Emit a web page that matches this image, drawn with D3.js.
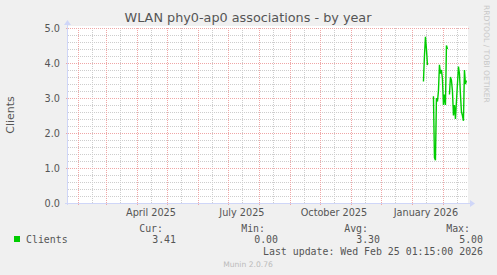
<!DOCTYPE html>
<html>
<head>
<meta charset="utf-8">
<script src="https://cdn.jsdelivr.net/npm/d3@7"></script>
<style>
  html, body { margin: 0; padding: 0; background: #f0f0f0; }
  svg { display: block; }
  text { font-family: 'DejaVu Sans', sans-serif; fill: #555; }
  .mono { font-family: 'DejaVu Sans Mono', monospace; }
</style>
</head>
<body>
<script>
// daily averages, null = no data
const days = [
  '2026-01-12', '2026-01-13', '2026-01-14', '2026-01-15', '2026-01-16',
  '2026-01-17', '2026-01-18', '2026-01-19', '2026-01-20', '2026-01-21',
  '2026-01-22', '2026-01-23', '2026-01-24', '2026-01-25', '2026-01-26',
  '2026-01-27', '2026-01-28', '2026-01-29', '2026-01-30', '2026-01-31',
  '2026-02-01', '2026-02-02', '2026-02-03', '2026-02-04', '2026-02-05',
  '2026-02-06', '2026-02-07', '2026-02-08', '2026-02-09', '2026-02-10',
  '2026-02-11', '2026-02-12', '2026-02-13', '2026-02-14', '2026-02-15',
  '2026-02-16', '2026-02-17', '2026-02-18', '2026-02-19', '2026-02-20',
  '2026-02-21', '2026-02-22', '2026-02-23', '2026-02-24'
]
const clients = [
  3.47, 4.2, 4.75, 4.4, 3.94,
  null, null, null, null, null,
  3.05, 1.3, 1.22, 3.0, 2.9,
  3.2, 3.95, 3.7, 3.8, 3.55,
  2.8, 3.1, 2.8, 4.5, 4.4,
  null, 3.1, 3.6, 3.5, 3.2,
  2.5, 2.8, 2.4, 2.9, 3.4,
  3.9, 3.7, 3.1, 2.6, 2.5,
  2.35, 3.8, 3.4, 3.5
]
const yTicks = [0, 1, 2, 3, 4, 5]
const monthLabels = ['April 2025', 'July 2025', 'October 2025', 'January 2026']
const legendHeads = ['Cur:', 'Min:', 'Avg:', 'Max:']
const legendValues = ['3.41', '0.00', '3.30', '5.00']
const lastUpdate = 'Last update: Wed Feb 25 01:15:00 2026'

;(function () {
  const W = 497, H = 275
  const pL = 67, pR = 467, pT = 28, pB = 203

  const parse = d3.timeParse('%Y-%m-%d')
  const end = new Date(2026, 1, 25, 1, 15)
  const start = d3.timeDay.offset(end, -400)

  const x = d3.scaleTime().domain([start, end]).range([pL, pR])
  const y = d3.scaleLinear().domain([0, 5]).range([pB, pT])

  const svg = d3.select('body').append('svg').attr('width', W).attr('height', H)

  // dotted patterns: one pixel on, one off
  const defs = svg.append('defs')
  const dotPattern = (id, w, h, color) => {
    defs.append('pattern')
      .attr('id', id)
      .attr('patternUnits', 'userSpaceOnUse')
      .attr('width', w).attr('height', h)
      .append('rect').attr('width', 1).attr('height', 1).attr('fill', color)
  }
  const minorColor = '#cdcdcd'
  const majorColor = '#efa6a6'
  dotPattern('h-minor', 2, 1, minorColor)
  dotPattern('v-minor', 1, 2, minorColor)
  dotPattern('h-major', 2, 1, majorColor)
  dotPattern('v-major', 1, 2, majorColor)

  svg.append('rect')
    .attr('x', pL).attr('y', pT - 2)
    .attr('width', pR - pL + 1).attr('height', pB - pT + 2)
    .attr('fill', '#fff')

  const grid = svg.append('g').attr('shape-rendering', 'crispEdges')

  const minorY = d3.range(0, 5.01, 0.2).filter((v) => Math.abs(v - Math.round(v)) > 0.01)
  const months = d3.timeMonth.range(d3.timeMonth.ceil(start), end)
  const mids = d3.timeMonth.range(d3.timeMonth.floor(start), end)
    .map((m) => d3.timeDay.offset(m, 14))
    .filter((d) => d > start && d < end)

  grid.selectAll('rect.minor-y').data(minorY).enter().append('rect')
    .attr('x', pL).attr('y', (d) => Math.round(y(d)))
    .attr('width', pR - pL).attr('height', 1)
    .attr('fill', 'url(#h-minor)')
  grid.selectAll('rect.minor-x').data(mids).enter().append('rect')
    .attr('x', (d) => Math.round(x(d))).attr('y', pT)
    .attr('width', 1).attr('height', pB - pT)
    .attr('fill', 'url(#v-minor)')
  grid.selectAll('rect.major-y').data(yTicks).enter().append('rect')
    .attr('x', pL - 2).attr('y', (d) => Math.round(y(d)))
    .attr('width', pR - pL + 4).attr('height', 1)
    .attr('fill', 'url(#h-major)')
  grid.selectAll('rect.major-x').data(months).enter().append('rect')
    .attr('x', (d) => Math.round(x(d))).attr('y', pT)
    .attr('width', 1).attr('height', pB - pT + 3)
    .attr('fill', 'url(#v-major)')

  // axes
  const axisColor = '#cfd6f8'
  grid.append('rect')
    .attr('x', pL - 2).attr('y', pB)
    .attr('width', pR - pL + 5).attr('height', 1)
    .attr('fill', axisColor)
  grid.append('rect')
    .attr('x', pL).attr('y', pT - 4)
    .attr('width', 1).attr('height', pB - pT + 6)
    .attr('fill', axisColor)
  svg.append('path')
    .attr('d', `M${pR + 3},${pB - 3}L${pR + 8},${pB + 0.5}L${pR + 3},${pB + 4}Z`)
    .attr('fill', axisColor)
  svg.append('path')
    .attr('d', `M${pL - 3},${pT - 3}L${pL + 0.5},${pT - 8}L${pL + 4},${pT - 3}Z`)
    .attr('fill', axisColor)

  // data line
  const series = days.map((d, i) => ({ date: d3.timeHour.offset(parse(d), 12), v: clients[i] }))
  const line = d3.line()
    .defined((d) => d.v !== null)
    .x((d) => x(d.date))
    .y((d) => y(d.v))
  svg.append('path')
    .datum(series)
    .attr('d', line)
    .attr('fill', 'none')
    .attr('stroke', '#00cc00')
    .attr('stroke-width', 1.4)

  // y tick labels
  svg.selectAll('text.yt').data(yTicks).enter().append('text')
    .attr('x', 60).attr('y', (d) => y(d) + 3.5)
    .attr('text-anchor', 'end')
    .attr('font-size', 9.7)
    .text((d) => d.toFixed(1))

  // x labels, centred mid-month
  const labelDates = [new Date(2025, 3, 15), new Date(2025, 6, 15), new Date(2025, 9, 15), new Date(2026, 0, 15)]
  svg.selectAll('text.xt').data(labelDates).enter().append('text')
    .attr('x', (d) => x(d)).attr('y', 216)
    .attr('text-anchor', 'middle')
    .attr('font-size', 9.7)
    .text((d, i) => monthLabels[i])

  // title
  svg.append('text')
    .attr('x', 248).attr('y', 22)
    .attr('text-anchor', 'middle')
    .attr('font-size', 12.8)
    .text('WLAN phy0-ap0 associations - by year')

  svg.append('text')
    .attr('transform', 'translate(14,115) rotate(-90)')
    .attr('text-anchor', 'middle')
    .attr('font-size', 11)
    .text('Clients')

  svg.append('text')
    .attr('transform', 'translate(484,5) rotate(90)')
    .attr('font-size', 7.6)
    .style('fill', '#c8c8c8')
    .text('RRDTOOL / TOBI OETIKER')

  // legend
  svg.append('rect')
    .attr('x', 14).attr('y', 236).attr('width', 6).attr('height', 6)
    .attr('fill', '#00cc00')
  svg.append('text').attr('class', 'mono')
    .attr('x', 26).attr('y', 242.5)
    .attr('font-size', 9.9)
    .text('Clients')

  const headEnds = [163, 265, 368, 470]
  const valEnds = [176, 278, 380, 483]
  svg.selectAll('text.lh').data(legendHeads).enter().append('text')
    .attr('class', 'mono')
    .attr('x', (d, i) => headEnds[i]).attr('y', 231.5)
    .attr('text-anchor', 'end').attr('font-size', 9.9)
    .text((d) => d)
  svg.selectAll('text.lv').data(legendValues).enter().append('text')
    .attr('class', 'mono')
    .attr('x', (d, i) => valEnds[i]).attr('y', 242.5)
    .attr('text-anchor', 'end').attr('font-size', 9.9)
    .text((d) => d)
  svg.append('text').attr('class', 'mono')
    .attr('x', 483).attr('y', 254.5)
    .attr('text-anchor', 'end').attr('font-size', 9.9)
    .text(lastUpdate)

  svg.append('text')
    .attr('x', 248).attr('y', 267)
    .attr('text-anchor', 'middle')
    .attr('font-size', 7.6)
    .style('fill', '#bbb')
    .text('Munin 2.0.76')
})()
</script>
</body>
</html>
